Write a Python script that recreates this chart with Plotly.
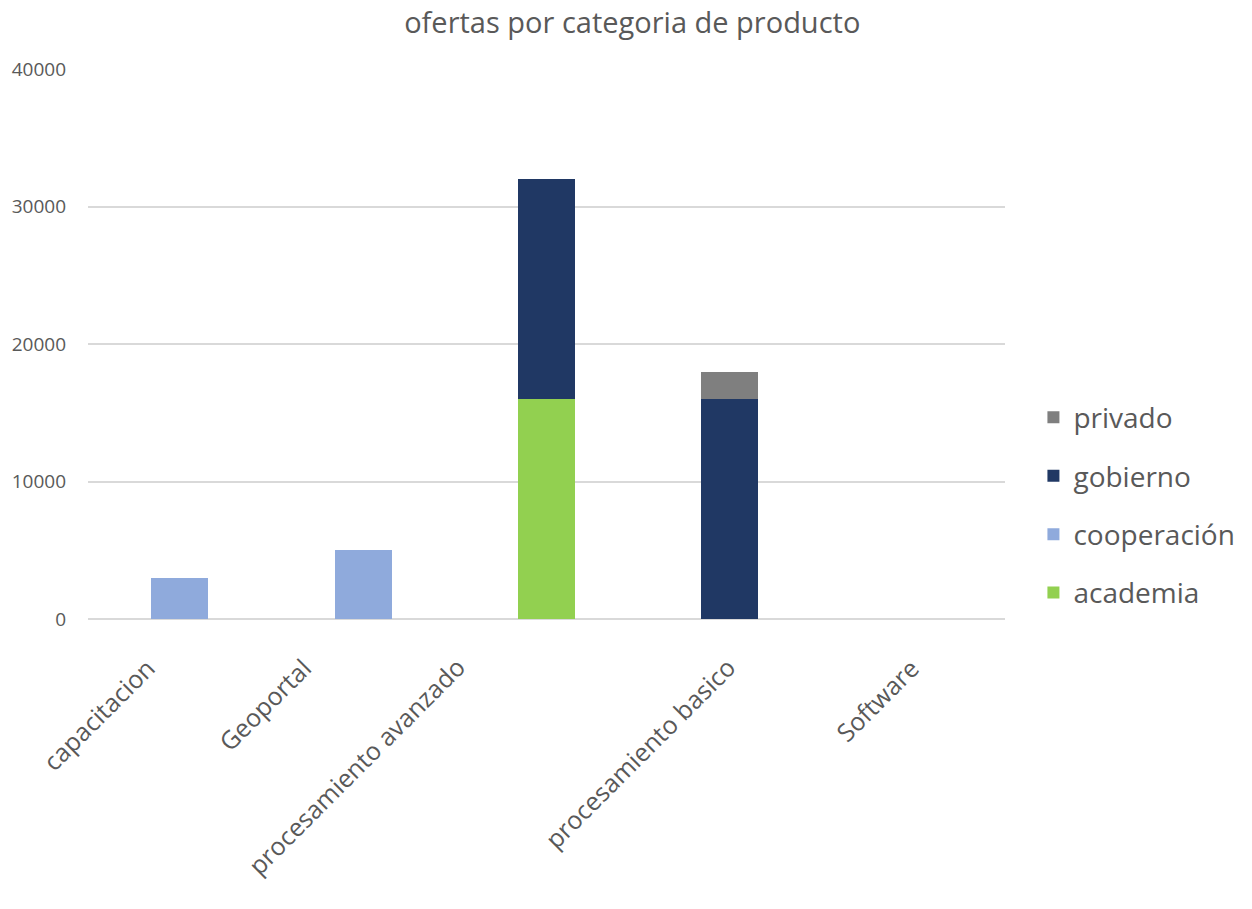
import plotly.graph_objects as go

categories = ["capacitacion", "Geoportal", "procesamiento avanzado", "procesamiento basico", "Software"]
academia = [0, 0, 16000, 0, 0]
cooperacion = [3000, 5000, 0, 0, 0]
gobierno = [0, 0, 16000, 16000, 0]
privado = [0, 0, 0, 2000, 0]

series = [
    ("academia", academia, "#92d050"),
    ("cooperación", cooperacion, "#8faadc"),
    ("gobierno", gobierno, "#203864"),
    ("privado", privado, "#7f7f7f"),
]

# horizontal nudge (px) of each rotated category label
label_shift = [-15, -42, -72, 15, 15]

fig = go.Figure()
for rank, (name, vals, color) in enumerate(series):
    fig.add_trace(go.Bar(
        x=categories, y=vals, name=name, legendgroup=name,
        legendrank=len(series) - rank,
        marker=dict(color=color, line=dict(width=0)),
    ))

# rotated category labels, anchored by their upper-right corner under each category
for cat, dx in zip(categories, label_shift):
    fig.add_annotation(
        x=cat, y=0, xref="x", yref="y", text=cat, showarrow=False,
        textangle=-45, xanchor="right", yanchor="top",
        xshift=dx, yshift=-29,
        font=dict(family="Open Sans", size=25, color="#595959"),
    )

fig.update_layout(
    barmode="stack",
    bargap=0.69,
    width=1252, height=909,
    paper_bgcolor="white", plot_bgcolor="white",
    margin=dict(l=88, r=247, t=69, b=290),
    title=dict(text="ofertas por categoria de producto", x=0.505, xref="container",
               y=0.975, yref="container", yanchor="middle",
               font=dict(family="Open Sans", size=29, color="#595959")),
    font=dict(family="Open Sans", color="#595959"),
    legend=dict(traceorder="grouped", x=1.031, xanchor="left", y=0.207, yanchor="middle",
                font=dict(size=28, color="#595959"), tracegroupgap=19,
                bgcolor="rgba(0,0,0,0)"),
    showlegend=True,
)
fig.update_yaxes(range=[0, 40000], tickvals=[0, 10000, 20000, 30000, 40000],
                 ticktext=["0", "10000", "20000", "30000", "40000"],
                 showgrid=True, gridcolor="#d9d9d9", gridwidth=1.5,
                 zeroline=True, zerolinecolor="#d9d9d9", zerolinewidth=1.5,
                 showline=False, ticks="", ticklabelstandoff=21,
                 tickfont=dict(family="Open Sans", size=19, color="#595959"))
fig.update_xaxes(range=[-0.5, len(categories) - 0.5], autorange=False,
                 showticklabels=False, showline=False, ticks="", showgrid=False)

fig.write_html("out.html")
